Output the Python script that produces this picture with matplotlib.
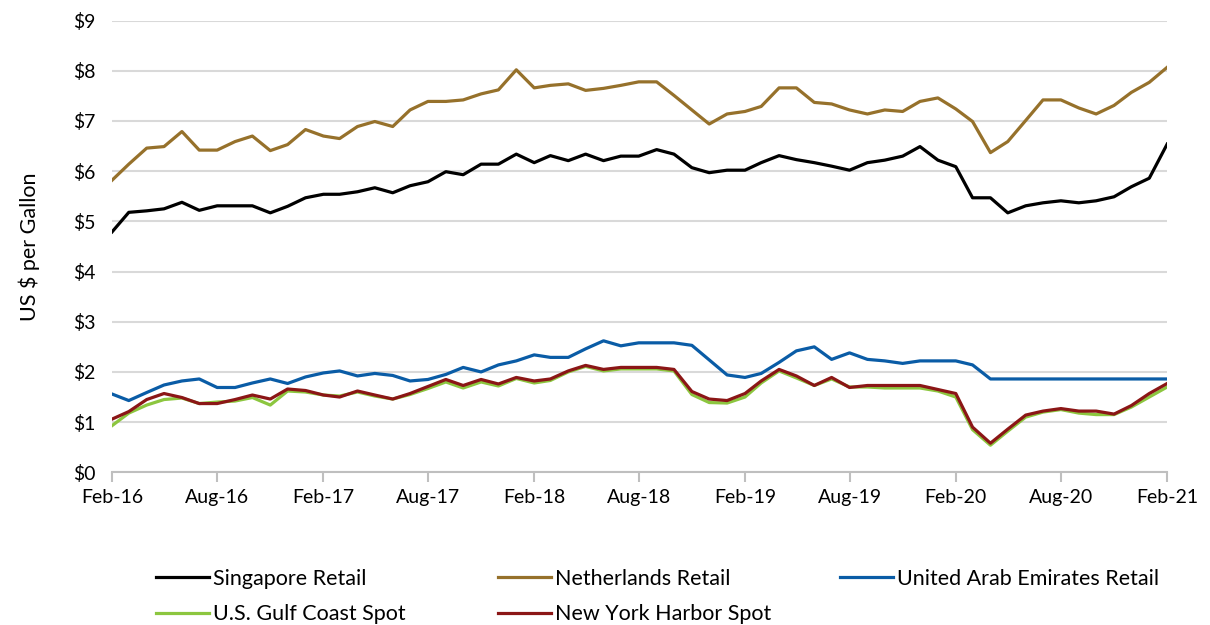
import matplotlib.pyplot as plt
import pandas as pd

plt.rcParams['font.family'] = ['Lato', 'DejaVu Sans']

months = pd.date_range('2016-02-01', periods=61, freq='MS')

singapore = [4.79, 5.18, 5.21, 5.25, 5.38, 5.22, 5.31, 5.31, 5.31, 5.17,
             5.30, 5.47, 5.54, 5.54, 5.59, 5.67, 5.57, 5.71, 5.79, 5.99,
             5.93, 6.14, 6.14, 6.34, 6.17, 6.31, 6.21, 6.34, 6.21, 6.30,
             6.30, 6.43, 6.34, 6.07, 5.97, 6.02, 6.02, 6.17, 6.31, 6.23,
             6.17, 6.10, 6.02, 6.17, 6.22, 6.30, 6.49, 6.22, 6.09, 5.47,
             5.47, 5.17, 5.31, 5.37, 5.41, 5.37, 5.41, 5.49, 5.69, 5.86,
             6.54]
netherlands = [5.82, 6.14, 6.46, 6.49, 6.79, 6.42, 6.42, 6.59, 6.70, 6.41,
               6.53, 6.83, 6.70, 6.65, 6.89, 6.99, 6.89, 7.22, 7.39, 7.39,
               7.42, 7.54, 7.62, 8.02, 7.66, 7.71, 7.74, 7.61, 7.65, 7.71,
               7.78, 7.78, 7.51, 7.22, 6.94, 7.14, 7.19, 7.29, 7.66, 7.66,
               7.37, 7.34, 7.22, 7.14, 7.22, 7.19, 7.39, 7.46, 7.24, 6.99,
               6.37, 6.59, 7.01, 7.42, 7.42, 7.26, 7.14, 7.31, 7.57, 7.77,
               8.07]
uae = [1.56, 1.43, 1.59, 1.74, 1.82, 1.86, 1.69, 1.69, 1.78, 1.86,
       1.77, 1.90, 1.98, 2.02, 1.92, 1.97, 1.93, 1.82, 1.85, 1.95,
       2.09, 2.00, 2.14, 2.22, 2.34, 2.29, 2.29, 2.46, 2.62, 2.52,
       2.58, 2.58, 2.58, 2.53, 2.24, 1.94, 1.89, 1.97, 2.19, 2.42,
       2.50, 2.25, 2.38, 2.25, 2.22, 2.17, 2.22, 2.22, 2.22, 2.14,
       1.86, 1.86, 1.86, 1.86, 1.86, 1.86, 1.86, 1.86, 1.86, 1.86,
       1.86]
gulf = [0.93, 1.18, 1.34, 1.45, 1.48, 1.37, 1.40, 1.42, 1.49, 1.34,
        1.62, 1.60, 1.54, 1.52, 1.60, 1.52, 1.46, 1.55, 1.67, 1.80,
        1.68, 1.80, 1.72, 1.87, 1.78, 1.83, 2.00, 2.11, 2.02, 2.06,
        2.06, 2.06, 2.02, 1.55, 1.39, 1.38, 1.50, 1.78, 2.02, 1.88,
        1.73, 1.86, 1.70, 1.70, 1.68, 1.68, 1.68, 1.62, 1.50, 0.85,
        0.54, 0.82, 1.10, 1.20, 1.25, 1.18, 1.15, 1.15, 1.30, 1.50,
        1.70]
ny_harbor = [1.06, 1.21, 1.45, 1.57, 1.49, 1.37, 1.37, 1.45, 1.54, 1.46,
             1.66, 1.63, 1.54, 1.50, 1.62, 1.54, 1.46, 1.57, 1.71, 1.85,
             1.73, 1.85, 1.76, 1.89, 1.82, 1.86, 2.02, 2.13, 2.05, 2.09,
             2.09, 2.09, 2.05, 1.61, 1.46, 1.43, 1.57, 1.82, 2.05, 1.92,
             1.73, 1.89, 1.69, 1.73, 1.73, 1.73, 1.73, 1.65, 1.57, 0.90,
             0.58, 0.86, 1.14, 1.22, 1.27, 1.22, 1.22, 1.16, 1.33, 1.57,
             1.77]

fig = plt.figure(figsize=(12.1, 6.25), dpi=100)
ax = fig.add_axes([0.0926, 0.2443, 0.872, 0.7227])

lw = 2.3
l_sg, = ax.plot(months, singapore, color='#000000', lw=lw, label='Singapore Retail')
l_nl, = ax.plot(months, netherlands, color='#96712B', lw=lw, label='Netherlands Retail')
l_ae, = ax.plot(months, uae, color='#0A5CA6', lw=lw, label='United Arab Emirates Retail')
l_gc, = ax.plot(months, gulf, color='#8CC63F', lw=lw, label='U.S. Gulf Coast Spot')
l_ny, = ax.plot(months, ny_harbor, color='#8B1616', lw=lw, label='New York Harbor Spot')

ax.set_xlim(months[0], months[-1])
ax.set_ylim(0, 9)
ax.set_yticks(range(10))
ax.set_yticklabels([f'${v}' for v in range(10)], fontsize=14)
ticks = months[::6]
ax.set_xticks(ticks)
ax.set_xticklabels([d.strftime('%b-%y') for d in ticks], fontsize=14)

ax.grid(axis='y', color='#D9D9D9', lw=1.5)
ax.set_axisbelow(True)
for s in ['top', 'right', 'left']:
    ax.spines[s].set_visible(False)
ax.spines['bottom'].set_color('#BFBFBF')
ax.spines['bottom'].set_linewidth(1.5)
ax.tick_params(axis='y', length=0, pad=12)
ax.tick_params(axis='x', length=7, width=1.5, color='#BFBFBF', pad=5)
ax.set_ylabel('US $ per Gallon', fontsize=15.5, labelpad=24)

# three legend columns, placed one by one so they start evenly spaced
columns = [[l_sg, l_gc], [l_nl, l_ny], [l_ae]]
col_x = [156 / 1210, 498 / 1210, 840 / 1210]
for handles, x in zip(columns, col_x):
    leg = fig.legend(handles, [h.get_label() for h in handles],
                     loc='upper left', bbox_to_anchor=(x, 1 - 569 / 625),
                     frameon=False, fontsize=15.5, handlelength=2.45,
                     handletextpad=0.2, labelspacing=0.7,
                     borderpad=0, borderaxespad=0)

fig.savefig('out.png', dpi=100)
